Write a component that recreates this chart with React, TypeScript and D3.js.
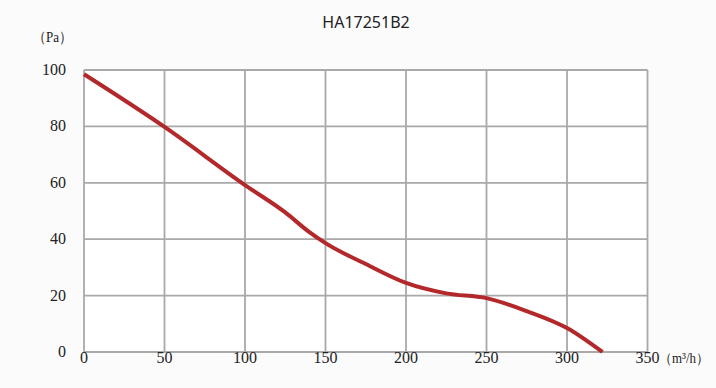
import React from "react";
import * as d3 from "d3";

const title = "HA17251B2";
const xTicks = [0, 50, 100, 150, 200, 250, 300, 350];
const yTicks = [0, 20, 40, 60, 80, 100];
const flow = [0, 50, 100, 125, 140, 150, 175, 200, 225, 250, 275, 300, 322];
const pressure = [98.5, 79.8, 59.2, 49.5, 42.5, 38.6, 31.2, 24.5, 20.8, 19.1, 14.5, 8.5, 0];

export default function App() {
  const W = 716, H = 388;
  const x = d3.scaleLinear().domain([0, 350]).range([84, 647.5]);
  const y = d3.scaleLinear().domain([0, 100]).range([352, 70]);
  const pts: [number, number][] = flow.map((f, i) => [f, pressure[i]]);
  const line = d3.line<[number, number]>().x(d => x(d[0])).y(d => y(d[1])).curve(d3.curveMonotoneX);
  const serif = "'Liberation Serif', 'DejaVu Serif', serif";
  return (
    <svg width={W} height={H} style={{ position: "absolute", left: 0, top: 0, display: "block" }}>
      <rect width={W} height={H} fill="#fbfbfb" />
      <rect x={x(0)} y={y(100)} width={x(350) - x(0)} height={y(0) - y(100)} fill="#ffffff" />
      {xTicks.map(t => (
        <line key={"gx" + t} x1={x(t)} x2={x(t)} y1={y(0)} y2={y(100)} stroke="#a9a9a9" strokeWidth={1.8} />
      ))}
      {yTicks.map(t => (
        <line key={"gy" + t} x1={x(0)} x2={x(350)} y1={y(t)} y2={y(t)} stroke="#a9a9a9" strokeWidth={1.8} />
      ))}
      <path d={line(pts) || ""} fill="none" stroke="#b3282a" strokeWidth={4} strokeLinecap="butt" />
      {yTicks.map(t => (
        <text key={"ty" + t} x={66} y={y(t) + 5} textAnchor="end" fontFamily={serif} fontSize={16} fill="#222">{t}</text>
      ))}
      {xTicks.map(t => (
        <text key={"tx" + t} x={x(t)} y={363} textAnchor="middle" fontFamily={serif} fontSize={16} fill="#222">{t}</text>
      ))}
      <text x={659} y={363} fontFamily={serif} fontSize={14} fill="#222" textLength={50} lengthAdjust="spacingAndGlyphs">（m³/h）</text>
      <text x={33} y={42} fontFamily={serif} fontSize={15} fill="#222" textLength={39} lengthAdjust="spacingAndGlyphs">（Pa）</text>
      <text x={366} y={28} textAnchor="middle" fontFamily="'Noto Sans', 'Noto Sans CJK SC', sans-serif" fontSize={16} fill="#222">{title}</text>
    </svg>
  );
}
